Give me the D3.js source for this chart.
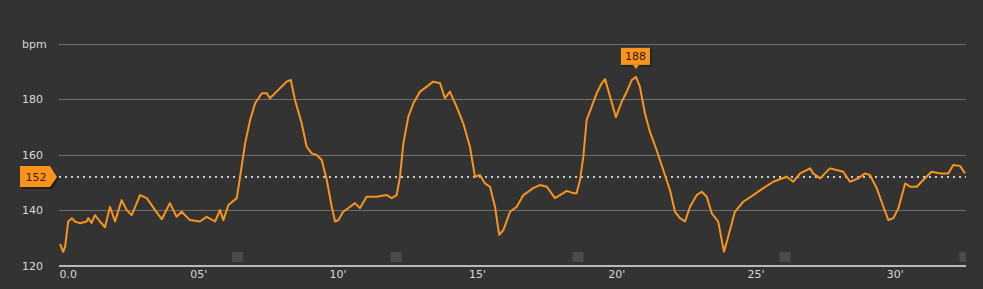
<html>
<script src="https://d3js.org/d3.v7.min.js"></script>
<style>
  body { margin: 0; background: #333; }
  text { font-family: "DejaVu Sans", Verdana, sans-serif; }
</style>
<body>
<svg class="chart" width="983" height="289"></svg>
<script>
// heart rate trace, minutes vs bpm
var minutes = [0.04,0.15,0.22,0.33,0.46,0.57,0.75,0.99,1.05,1.17,1.29,1.47,1.65,1.83,2.01,2.25,2.43,2.61,2.91,3.15,
  3.45,3.69,3.98,4.22,4.40,4.70,5.06,5.30,5.60,5.78,5.90,6.08,6.38,6.50,6.68,6.86,7.04,7.28,7.46,7.57,
  7.81,8.05,8.17,8.32,8.47,8.71,8.89,9.07,9.25,9.43,9.61,9.79,9.91,10.03,10.20,10.45,10.62,10.80,11.04,11.40,
  11.76,11.94,12.12,12.24,12.36,12.54,12.72,12.96,13.20,13.43,13.68,13.85,14.03,14.27,14.51,14.75,14.93,15.11,15.29,15.47,
  15.65,15.80,15.95,16.19,16.43,16.67,17.02,17.26,17.51,17.80,18.10,18.22,18.46,18.58,18.70,18.82,18.94,19.12,19.30,19.48,
  19.60,19.78,19.99,20.20,20.38,20.56,20.71,20.85,21.03,21.21,21.45,21.69,21.93,22.11,22.29,22.47,22.65,22.89,23.07,23.25,
  23.43,23.66,23.87,24.02,24.26,24.56,24.92,25.28,25.64,26.12,26.36,26.60,26.96,27.07,27.32,27.67,27.91,28.15,28.39,28.69,
  28.93,29.11,29.35,29.59,29.77,29.95,30.13,30.37,30.55,30.79,31.02,31.32,31.62,31.92,32.10,32.34,32.52];
var bpm = [127.9,125.1,127,136,137.2,136,135.4,136,137.2,135.5,138.3,136,133.9,141.3,136,143.7,140.1,138.3,145.5,144.4,
  140.1,136.8,142.6,137.7,139.5,136.5,136,137.7,136,140.1,136.5,141.9,144.4,152.1,164.1,172.5,178.5,182.1,182.1,180.3,
  182.7,185.1,186.3,186.9,179.7,171.3,162.9,160.5,159.9,158.1,150.9,141.3,136,136.5,139.5,141.3,142.6,140.8,144.9,144.9,
  145.5,144.4,145.5,152.1,164.1,173.7,178.5,182.7,184.5,186.3,185.7,180.3,182.7,177.3,171.3,162.9,152.1,152.7,149.7,148.5,
  141.3,131.2,132.9,139.5,141.3,145.5,148,149.1,148.5,144.4,146.2,147,146.2,146.2,150.9,159.3,172.5,177.3,182.1,185.7,
  187.2,180.9,173.5,179.1,182.7,186.9,188,184.5,174.9,168.3,161.7,154.5,147.3,139.5,137.2,136,141.3,145.5,146.7,144.9,
  138.9,136,125.1,130.5,139.5,143.1,145.5,148,150.3,152.1,150.3,153.3,155.1,153.3,151.5,155.1,154.5,153.9,150.3,151.5,
  153.3,152.7,148,141.3,136.5,137.2,140.8,149.7,148.5,148.5,150.9,153.9,153.3,153.3,156.3,156,153.3];

var yTicks = [120, 140, 160, 180, 200];
var xTicks = [0, 5, 10, 15, 20, 25, 30];
var xTickLabels = ["0.0", "05'", "10'", "15'", "20'", "25'", "30'"];
var avgBpm = 152;
var maxBpm = 188;
var maxMinute = 20.71;
var lapMinutes = [6.41, 12.10, 18.63, 26.06, 32.52];

var data = minutes.map(function(m, i) { return {t: m, v: bpm[i]}; });

var svg = d3.select(".chart");
var x = d3.scaleLinear().domain([0, 32.52]).range([59, 965]);
var y = d3.scaleLinear().domain([120, 200]).range([266, 43.5]);

svg.append("rect").attr("width", 983).attr("height", 289).attr("fill", "#333");

// grid lines
svg.append("g").selectAll("line").data(yTicks.slice(1)).enter()
  .append("line")
    .attr("x1", 59).attr("x2", 966)
    .attr("y1", function(d) { return Math.round(y(d)) + 0.5; })
    .attr("y2", function(d) { return Math.round(y(d)) + 0.5; })
    .attr("stroke", "#6e6e6e").attr("stroke-width", 1);

// y labels
svg.append("g").selectAll("text").data(yTicks).enter()
  .append("text")
    .attr("x", 22).attr("y", function(d) { return y(d) + 4; })
    .attr("font-size", 11).attr("fill", "#d8d8d8")
    .text(function(d) { return d == 200 ? "bpm" : d; });

// lap markers
svg.append("clipPath").attr("id", "plotclip")
  .append("rect").attr("x", 59).attr("y", 0).attr("width", 907).attr("height", 289);
svg.append("g").attr("clip-path", "url(#plotclip)")
  .selectAll("rect").data(lapMinutes).enter()
  .append("rect")
    .attr("x", function(d) { return x(d) - 5.5; }).attr("y", 252)
    .attr("width", 11).attr("height", 10)
    .attr("fill", "#4b4b4b");

// x axis
svg.append("g")
  .attr("transform", "translate(0,266)")
  .call(d3.axisBottom(x).tickValues(xTicks).tickSize(0).tickPadding(4)
    .tickFormat(function(d, i) { return xTickLabels[i]; }))
  .call(function(g) {
    g.select(".domain").attr("stroke", "#e6e6e6").attr("stroke-width", 1.5).attr("d", "M59,0H966");
    g.selectAll("text").attr("fill", "#d8d8d8").attr("font-size", 11)
      .attr("font-family", "DejaVu Sans, Verdana, sans-serif");
    g.selectAll(".tick").filter(function(d) { return d === 0; }).select("text")
      .attr("text-anchor", "start");
  });

// average line
svg.append("line")
  .attr("x1", 59).attr("x2", 966)
  .attr("y1", y(avgBpm)).attr("y2", y(avgBpm))
  .attr("stroke", "#ffffff").attr("stroke-width", 1.5)
  .attr("stroke-dasharray", "2,4");

// heart rate line
svg.append("path")
  .datum(data)
  .attr("fill", "none")
  .attr("stroke", "#f7941e")
  .attr("stroke-width", 2)
  .attr("stroke-linejoin", "round")
  .attr("d", d3.line()
    .x(function(d) { return x(d.t); })
    .y(function(d) { return y(d.v); }));

// average badge
var ay = y(avgBpm);
svg.append("path")
  .attr("d", "M22," + (ay - 9) + "H52L59," + (ay + 1) + "L52," + (ay + 12) + "H22Z")
  .attr("fill", "#1e1a16").attr("opacity", 0.8);
svg.append("path")
  .attr("d", "M20," + (ay - 11) + "H50L57," + ay + "L50," + (ay + 10) + "H20Z")
  .attr("fill", "#f7941e");
svg.append("text")
  .attr("x", 36).attr("y", ay + 4)
  .attr("text-anchor", "middle").attr("font-size", 11).attr("fill", "#4a1a05")
  .text(avgBpm);

// max badge
var mx = x(maxMinute), my = y(maxBpm);
svg.append("rect")
  .attr("x", mx - 14).attr("y", my - 28)
  .attr("width", 30).attr("height", 18)
  .attr("fill", "#1e1a16").attr("opacity", 0.6);
svg.append("rect")
  .attr("x", mx - 15).attr("y", my - 29)
  .attr("width", 29).attr("height", 17)
  .attr("fill", "#f7941e");
svg.append("path")
  .attr("d", "M" + (mx - 3) + "," + (my - 12) + "L" + mx + "," + (my - 8) + "L" + (mx + 3) + "," + (my - 12) + "Z")
  .attr("fill", "#f7941e");
svg.append("text")
  .attr("x", mx - 0.5).attr("y", my - 16.5)
  .attr("text-anchor", "middle").attr("font-size", 11).attr("fill", "#3a1505")
  .text(maxBpm);
</script>
</body>
</html>
